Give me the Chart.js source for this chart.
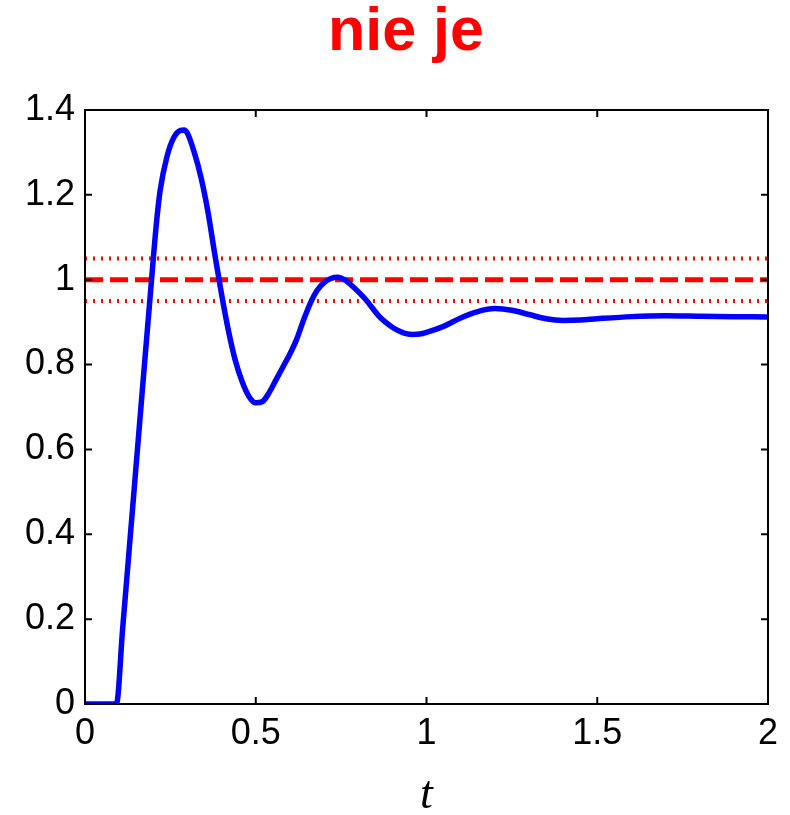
<!DOCTYPE html>
<html>
<head>
<meta charset="utf-8">
<script src="https://cdn.jsdelivr.net/npm/chart.js@4"></script>
<style>
  html, body { margin: 0; padding: 0; background: #fff; }
  #wrap { width: 790px; height: 815px; }
</style>
</head>
<body>
<div id="wrap"><canvas id="stepChart" width="790" height="815"></canvas></div>
<script>
// step response samples (time, output)
const tValues = [0, 0.092, 0.11, 0.13, 0.15, 0.17, 0.19, 0.20, 0.21, 0.22, 0.24, 0.26, 0.28, 0.29, 0.30, 0.32, 0.34, 0.36, 0.38, 0.40,
    0.42, 0.44, 0.46, 0.48, 0.50, 0.52, 0.54, 0.56, 0.58, 0.60, 0.62, 0.64, 0.66, 0.68, 0.70, 0.72, 0.74, 0.76, 0.78, 0.80,
    0.82, 0.84, 0.86, 0.88, 0.90, 0.92, 0.94, 0.96, 0.98, 1.00, 1.05, 1.10, 1.15, 1.20, 1.25, 1.30, 1.35, 1.40, 1.45, 1.50,
    1.60, 1.70, 1.80, 1.90, 2.00];
const yValues = [0, 0, 0.175, 0.37, 0.565, 0.76, 0.953, 1.05, 1.14, 1.21, 1.29, 1.335, 1.352, 1.353, 1.345, 1.3, 1.24, 1.16, 1.06, 0.965,
    0.88, 0.81, 0.76, 0.725, 0.71, 0.713, 0.735, 0.765, 0.795, 0.825, 0.86, 0.905, 0.945, 0.975, 0.993, 1.003, 1.006, 1.0, 0.987, 0.972,
    0.955, 0.935, 0.915, 0.9, 0.888, 0.879, 0.873, 0.871, 0.872, 0.876, 0.89, 0.91, 0.925, 0.932, 0.928, 0.918, 0.908, 0.904, 0.905, 0.908,
    0.913, 0.915, 0.914, 0.913, 0.912];

// setpoint and the +-5 % tolerance band
const setpoint = 1;
const bandLevels = [1.05, 0.95];
const tRange = [0, 2];

const xTicks = [0, 0.5, 1, 1.5, 2];
const yTicks = [0, 0.2, 0.4, 0.6, 0.8, 1, 1.2, 1.4];

const titleText = 'nie je';

const tickFont = { family: 'Liberation Sans, Arial, sans-serif', size: 36 };
const fmt = v => String(+(+v).toFixed(2));

function hLine(level, dash, width) {
    return {
        data: tRange.map(t => ({ x: t, y: level })),
        borderColor: '#ff0000',
        borderWidth: width,
        borderDash: dash,
        borderCapStyle: 'butt',
        pointRadius: 0,
        fill: false,
        order: 2
    };
}

// red heading, sitting a bit right of the canvas centre
const heading = {
    id: 'heading',
    afterDraw(chart) {
        const { ctx } = chart;
        ctx.save();
        ctx.fillStyle = '#ff0000';
        ctx.font = 'bold 61px "Liberation Sans", Arial, sans-serif';
        ctx.textAlign = 'center';
        ctx.textBaseline = 'alphabetic';
        ctx.fillText(titleText, 406, 50);
        ctx.restore();
    }
};

// box around the axes with inward tick marks on every side
const boxTicks = {
    id: 'boxTicks',
    afterDraw(chart) {
        const { ctx, chartArea: a, scales } = chart;
        ctx.save();
        ctx.strokeStyle = '#000';
        ctx.lineWidth = 2;
        ctx.strokeRect(a.left, a.top, a.right - a.left, a.bottom - a.top);
        const len = 7;
        ctx.beginPath();
        xTicks.forEach(v => {
            const px = scales.x.getPixelForValue(v);
            ctx.moveTo(px, a.bottom); ctx.lineTo(px, a.bottom - len);
            ctx.moveTo(px, a.top); ctx.lineTo(px, a.top + len);
        });
        yTicks.forEach(v => {
            const py = scales.y.getPixelForValue(v);
            ctx.moveTo(a.left, py); ctx.lineTo(a.left + len, py);
            ctx.moveTo(a.right, py); ctx.lineTo(a.right - len, py);
        });
        ctx.stroke();
        ctx.restore();
    }
};

new Chart(document.getElementById('stepChart').getContext('2d'), {
    type: 'line',
    data: {
        datasets: [
            {
                data: tValues.map((t, i) => ({ x: t, y: yValues[i] })),
                borderColor: '#0000ff',
                borderWidth: 5.5,
                pointRadius: 0,
                fill: false,
                cubicInterpolationMode: 'monotone',
                order: 1
            },
            hLine(setpoint, [18, 7], 5),
            hLine(bandLevels[0], [2, 6], 4),
            hLine(bandLevels[1], [2, 6], 4)
        ]
    },
    options: {
        responsive: false,
        animation: false,
        layout: { padding: { top: 110, left: 0, right: 22, bottom: 0 } },
        plugins: {
            legend: { display: false },
            tooltip: { enabled: false },
            title: { display: false }
        },
        scales: {
            x: {
                type: 'linear',
                min: 0,
                max: 2,
                afterBuildTicks: s => { s.ticks = xTicks.map(v => ({ value: v })); },
                afterFit: s => { s.height = 111; },
                grid: { display: false, drawTicks: false },
                border: { display: false },
                ticks: { color: '#000', font: tickFont, padding: 8, maxRotation: 0, callback: fmt },
                title: {
                    display: true,
                    text: 't',
                    color: '#000',
                    font: { family: 'Liberation Serif, Times New Roman, serif', size: 46, style: 'italic', lineHeight: 1 },
                    padding: { top: 0, bottom: -4 }
                }
            },
            y: {
                type: 'linear',
                min: 0,
                max: 1.4,
                afterBuildTicks: s => { s.ticks = yTicks.map(v => ({ value: v })); },
                afterFit: s => { s.width = 85; },
                grid: { display: false, drawTicks: false },
                border: { display: false },
                ticks: { color: '#000', font: tickFont, padding: 10, callback: fmt }
            }
        }
    },
    plugins: [boxTicks, heading]
});
</script>
</body>
</html>
